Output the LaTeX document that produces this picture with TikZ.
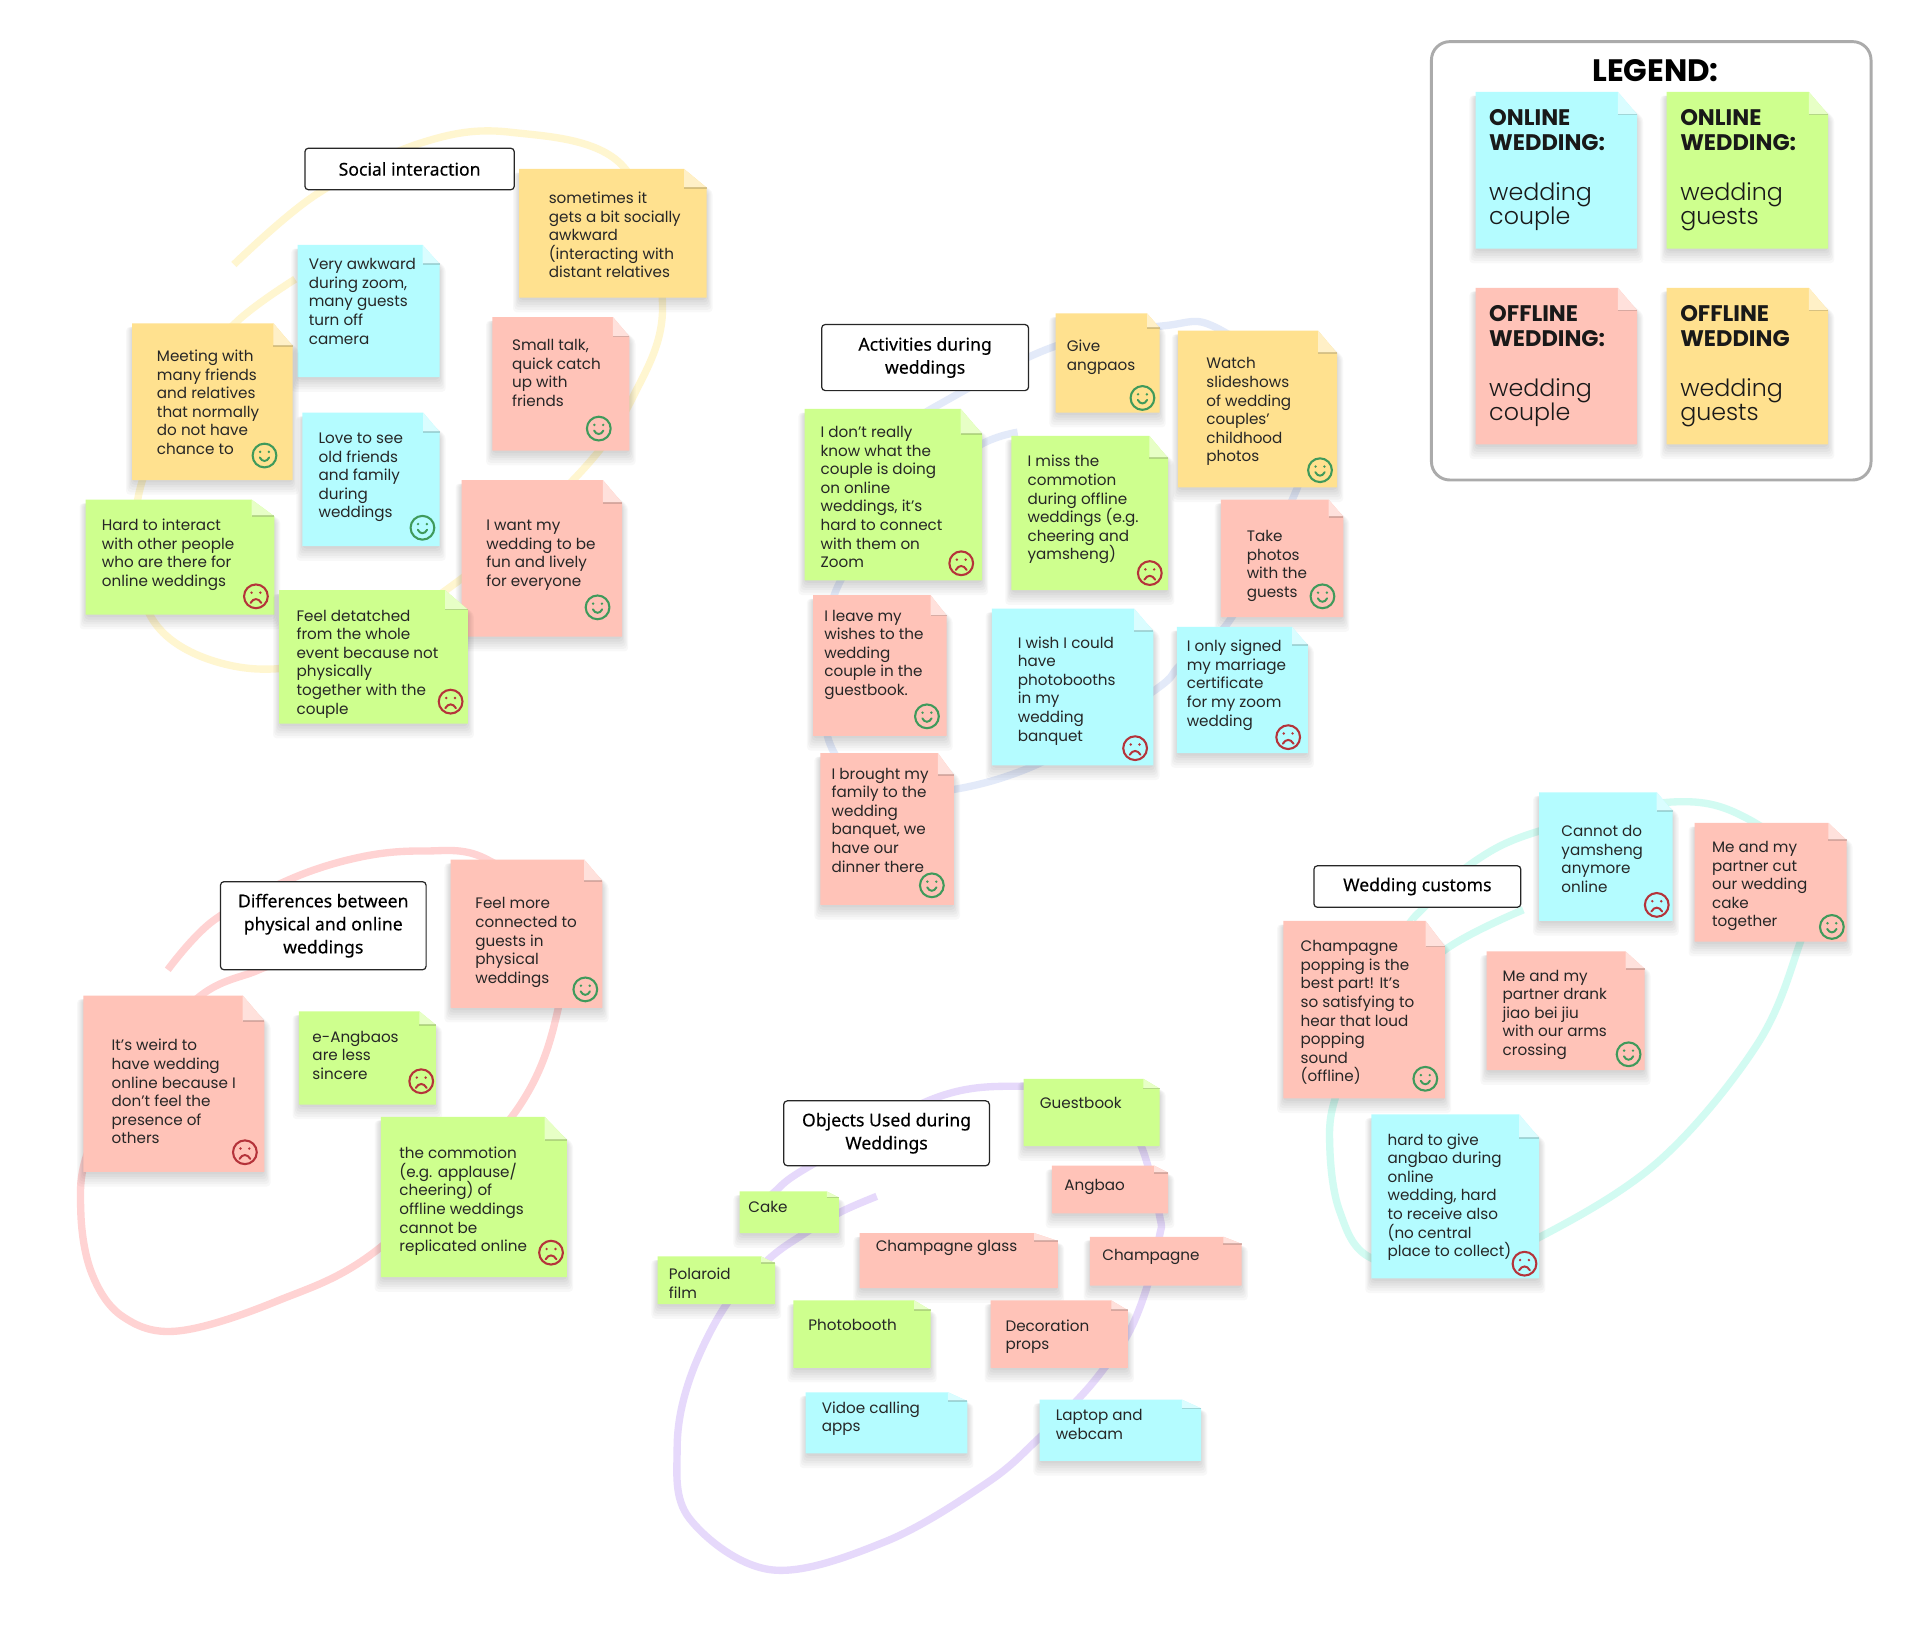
\documentclass[tikz,border=0pt]{standalone}
\usepackage{fontspec}
\setmainfont{Poppins}
\newfontfamily\titlefont[FakeBold=0.3]{Noto Sans}
\newfontfamily\legendfont{Poppins Light}
\definecolor{noteyellow}{HTML}{FFE18F}
\definecolor{noteblue}{HTML}{B4FCFF}
\definecolor{notegreen}{HTML}{CEFF8E}
\definecolor{notepink}{HTML}{FFC3B8}
\definecolor{ringyellow}{HTML}{FFF6D0}
\definecolor{ringblue}{HTML}{E3EAF9}
\definecolor{ringpink}{HTML}{FFD3D3}
\definecolor{ringaqua}{HTML}{D2FBF2}
\definecolor{ringlilac}{HTML}{E6D9FB}
\definecolor{facegreen}{HTML}{3F9A5B}
\definecolor{facered}{HTML}{B5333A}
\tikzset{
    ring/.style={line width=6pt,smooth,tension=0.6},
    notetext/.style={anchor=north west,inner sep=0pt,align=left,text=black!85,font=\fontsize{12.4}{15.2}\selectfont},
    legendtext/.style={anchor=north west,inner sep=0pt,align=left,text=black!90,font=\legendfont\fontsize{19.4}{20.2}\selectfont},
    titlebox/.style={draw=black!85,fill=white,line width=1pt,rounded corners=3pt,align=center,inner sep=0pt,font=\titlefont\fontsize{14.4}{18.8}\selectfont},
}
\newcommand{\legendhead}[1]{{\normalfont\fontsize{18.4}{20.2}\selectfont\bfseries #1}}
\newcommand{\stickynote}[7]{%
    \pgfmathsetmacro{\fw}{0.12*(#5-#3)}
    \pgfmathsetmacro{\fh}{0.145*(#6-#4)}
    \foreach \s in {1,...,6}
        \fill[black,opacity=0.028,rounded corners=3pt] (#3-6+\s,#4+3) -- (#5-\fw,#4+3) -- (#5+6-\s,#4+\fh+3) -- (#5+6-\s,#6+14-2*\s) -- (#3-6+\s,#6+14-2*\s) -- cycle;
    \fill[#2] (#3,#4) -- (#5-\fw,#4) -- (#5,#4+\fh) -- (#5,#6) -- (#3,#6) -- cycle;
    \fill[#2!50!white] (#5-\fw,#4) -- (#5,#4+\fh) -- (#5-\fw,#4+\fh) -- cycle;
    \draw[#2!75!black,line width=1.5pt,opacity=0.6] (#5-\fw,#4+\fh) -- (#5,#4+\fh);
    \coordinate (#1) at (#3,#4);
    #7
}
\newcommand{\notelabel}[4]{\node[notetext] (#1) at (#2,#3-8) {\rule{0pt}{12pt}#4};}
\newcommand{\smileface}[2]{%
    \draw[facegreen,line width=1.7pt] (#1,#2) circle (9.7);
    \fill[facegreen] (#1-3.6,#2-3) circle (1.1) (#1+3.6,#2-3) circle (1.1);
    \draw[facegreen,line width=1.6pt,line cap=round] (#1-3.8,#2+1.6) .. controls (#1-2,#2+5.4) and (#1+2,#2+5.4) .. (#1+3.8,#2+1.6);
}
\newcommand{\frownface}[2]{%
    \draw[facered,line width=1.7pt] (#1,#2) circle (9.7);
    \fill[facered] (#1-3.6,#2-3) circle (1.1) (#1+3.6,#2-3) circle (1.1);
    \draw[facered,line width=1.6pt,line cap=round] (#1-4.4,#2+5.4) .. controls (#1-2,#2+1.2) and (#1+2,#2+1.2) .. (#1+4.4,#2+5.4);
}
\begin{document}
\begin{tikzpicture}[x=1pt,y=-1pt]
            \useasboundingbox (0,0) rectangle (1568,1338.5);
            \fill[white] (0,0) rectangle (1568,1338.5);

            \draw[ring,ringyellow] plot coordinates {(191,216) (258,159) (343,117) (417,108) (509,136) (541,247) (517,324) (470,390) (375,474) (275,535) (191,544) (124,505) (112,411) (150,320) (191,265) (241,228)};
            \draw[ring,ringblue] plot coordinates {(831,353) (801,363) (745,400) (686,475) (673,543) (678,608) (713,642) (777,645) (856,620) (944,563) (964,543) (1006,504) (1060,397) (1075,332) (996,269) (951,266) (861,283) (764,332) (729,356)};
            \draw[ring,ringpink] plot coordinates {(137,792) (174,752) (237,718) (294,700) (345,695) (396,701) (455,750) (456,823) (418,912) (309,1020) (225,1063) (145,1087) (100,1075) (75,1040) (66,990) (72,940) (110,870) (164,813) (209,793) (237,782)};
            \draw[ring,ringaqua] plot coordinates {(1244,743) (1181,775) (1120,830) (1091,895) (1086,937) (1094,989) (1119,1027) (1186,1037) (1258,1010) (1355,948) (1435,853) (1470,770) (1483,718) (1428,669) (1365,655) (1256,679) (1202,705) (1159,745) (1154,751)};
            \draw[ring,ringlilac] plot coordinates {(716,977) (686,990) (656,1008) (627,1029) (592,1067) (563,1127) (553,1183) (563,1240) (630,1282) (723,1259) (806,1211) (848,1175) (882,1141) (902,1117) (922,1088) (937,1050) (947,1009) (947,993) (932,936) (906,895) (836,887) (763,897) (660,953) (633,973) (623,984)};

            \stickynote{nsometimes}{noteyellow}{424}{138}{577}{243}{\notelabel{sometimes}{448}{162}{sometimes it\\gets a bit socially\\awkward\\(interacting with\\distant relatives}}
            \stickynote{nawkward}{noteblue}{243}{200}{359}{308}{\notelabel{awkward}{252}{216}{Very awkward\\during zoom,\\many guests\\turn off\\camera}}
            \stickynote{nmeeting}{noteyellow}{108}{264}{239}{392}{\notelabel{meeting}{128}{291}{Meeting with\\many friends\\and relatives\\that normally\\do not have\\chance to}\smileface{216}{372}}
            \stickynote{nsmalltalk}{notepink}{402}{259}{514}{368}{\notelabel{smalltalk}{418}{282}{Small talk,\\quick catch\\up with\\friends}\smileface{489}{350}}
            \stickynote{nlove}{noteblue}{247}{337}{359}{446}{\notelabel{love}{260}{358}{Love to see\\old friends\\and family\\during\\weddings}\smileface{345}{431}}
            \stickynote{nhard}{notegreen}{70}{408}{224}{502}{\notelabel{hardinteract}{83}{429}{Hard to interact\\with other people\\who are there for\\online weddings}\frownface{209}{487}}
            \stickynote{nfun}{notepink}{377}{392}{508}{520}{\notelabel{fun}{397}{429}{I want my\\wedding to be\\fun and lively\\for everyone}\smileface{488}{496}}
            \stickynote{ndetached}{notegreen}{228}{482}{382}{591}{\notelabel{detached}{242}{503}{Feel detatched\\from the whole\\event because not\\physically\\together with the\\couple}\frownface{368}{573}}

            \stickynote{ngive}{noteyellow}{862}{256}{947}{337}{\notelabel{give}{871}{283}{Give\\angpaos}\smileface{933}{325}}
            \stickynote{nwatch}{noteyellow}{962}{270}{1092}{398}{\notelabel{watch}{985}{297}{Watch\\slideshows\\of wedding\\couples’\\childhood\\photos}\smileface{1078}{384}}
            \stickynote{nknow}{notegreen}{657}{334}{802}{474}{\notelabel{know}{670}{353}{I don’t really\\know what the\\couple is doing\\on online\\weddings, it’s\\hard to connect\\with them on\\Zoom}\frownface{785}{460}}
            \stickynote{nmiss}{notegreen}{826}{356}{954}{482}{\notelabel{miss}{839}{377}{I miss the\\commotion\\during offline\\weddings (e.g.\\cheering and\\yamsheng)}\frownface{939}{468}}
            \stickynote{ntake}{notepink}{997}{408}{1097}{504}{\notelabel{take}{1018}{438}{Take\\photos\\with the\\guests}\smileface{1080}{487}}
            \stickynote{nleave}{notepink}{664}{486}{773}{601}{\notelabel{leave}{673}{503}{I leave my\\wishes to the\\wedding\\couple in the\\guestbook.}\smileface{757}{585}}
            \stickynote{nwish}{noteblue}{810}{497}{942}{625}{\notelabel{wish}{831}{525}{I wish I could\\have\\photobooths\\in my\\wedding\\banquet}\frownface{927}{611}}
            \stickynote{nsigned}{noteblue}{961}{512}{1068}{615}{\notelabel{signed}{969}{528}{I only signed\\my marriage\\certificate\\for my zoom\\wedding}\frownface{1052}{602}}
            \stickynote{nbrought}{notepink}{670}{615}{779}{739}{\notelabel{brought}{679}{632}{I brought my\\family to the\\wedding\\banquet, we\\have our\\dinner there}\smileface{761}{723}}

            \stickynote{ncannot}{noteblue}{1257}{647}{1366}{752}{\notelabel{cannot}{1275}{679}{Cannot do\\yamsheng\\anymore\\online}\frownface{1353}{739}}
            \stickynote{ncake}{notepink}{1384}{672}{1508}{769}{\notelabel{cutcake}{1398}{692}{Me and my\\partner cut\\our wedding\\cake\\together}\smileface{1496}{757}}
            \stickynote{npopping}{notepink}{1048}{752}{1180}{897}{\notelabel{popping}{1062}{773}{Champagne\\popping is the\\best part! It’s\\so satisfying to\\hear that loud\\popping\\sound\\(offline)}\smileface{1164}{881}}
            \stickynote{ndrank}{notepink}{1214}{777}{1343}{874}{\notelabel{drank}{1227}{797}{Me and my\\partner drank\\jiao bei jiu\\with our arms\\crossing}\smileface{1330}{861}}
            \stickynote{nangbao}{noteblue}{1120}{910}{1257}{1044}{\notelabel{hardangbao}{1133}{931}{hard to give\\angbao during\\online\\wedding, hard\\to receive also\\(no central\\place to collect)}\frownface{1245}{1032}}

            \stickynote{nconnected}{notepink}{368}{702}{492}{823}{\notelabel{connected}{388}{738}{Feel more\\connected to\\guests in\\physical\\weddings}\smileface{478}{808}}
            \stickynote{nweird}{notepink}{68}{813}{216}{957}{\notelabel{weird}{91}{854}{It’s weird to\\have wedding\\online because I\\don’t feel the\\presence of\\others}\frownface{200}{941}}
            \stickynote{nsincere}{notegreen}{244}{826}{356}{902}{\notelabel{sincere}{255}{847}{e-Angbaos\\are less\\sincere}\frownface{344}{883}}
            \stickynote{ncommotion}{notegreen}{311}{912}{463}{1043}{\notelabel{commotion}{326}{942}{the commotion\\(e.g. applause/\\cheering) of\\offline weddings\\cannot be\\replicated online}\frownface{450}{1023}}

            \stickynote{nguestbook}{notegreen}{836}{881}{947}{936}{\notelabel{guestbook}{849}{901}{Guestbook}}
            \stickynote{nangbaoobj}{notepink}{859}{952}{954}{991}{\notelabel{angbaoobj}{869}{968}{Angbao}}
            \stickynote{ncakeobj}{notegreen}{604}{973}{685}{1007}{\notelabel{cakeobj}{611}{986}{Cake}}
            \stickynote{nglass}{notepink}{702}{1007}{864}{1052}{\notelabel{glass}{715}{1018}{Champagne glass}}
            \stickynote{nchampagne}{notepink}{890}{1010}{1014}{1050}{\notelabel{champagne}{900}{1025}{Champagne}}
            \stickynote{npolaroid}{notegreen}{537}{1026}{633}{1065}{\notelabel{polaroid}{546}{1041}{Polaroid\\film}}
            \stickynote{nbooth}{notegreen}{648}{1062}{760}{1117}{\notelabel{booth}{660}{1082}{Photobooth}}
            \stickynote{nprops}{notepink}{809}{1062}{921}{1117}{\notelabel{props}{821}{1083}{Decoration\\props}}
            \stickynote{nvideo}{noteblue}{658}{1137}{790}{1187}{\notelabel{video}{671}{1150}{Vidoe calling\\apps}}
            \stickynote{nlaptop}{noteblue}{849}{1143}{981}{1193}{\notelabel{laptop}{862}{1156}{Laptop and\\webcam}}

            \node[titlebox,minimum width=171pt,minimum height=34pt] (social) at (334.5,138) {Social interaction};
            \node[titlebox,minimum width=169pt,minimum height=54pt] (activities) at (755.5,292) {Activities during\\weddings};
            \node[titlebox,minimum width=169pt,minimum height=34pt] (customs) at (1157.5,724) {Wedding customs};
            \node[titlebox,minimum width=168pt,minimum height=72pt] (differences) at (264,756) {Differences between\\physical and online\\weddings};
            \node[titlebox,minimum width=168pt,minimum height=53pt] (objects) at (724,925.5) {Objects Used during\\Weddings};

            \draw[black!33,line width=2.4pt,rounded corners=15pt] (1169,34) rectangle (1528,392);
            \node[font=\fontsize{25.3}{28}\selectfont\bfseries,inner sep=0pt] (legend) at (1352,58) {LEGEND:};
            \stickynote{lonlinecouple}{noteblue}{1205}{75}{1337}{203}{\node[legendtext] (onlinecouple) at (1216,89.5) {\legendhead{ONLINE}\\\legendhead{WEDDING:}\\[20.2pt]wedding\\couple};}
            \stickynote{lonlineguests}{notegreen}{1361}{75}{1493}{203}{\node[legendtext] (onlineguests) at (1372,89.5) {\legendhead{ONLINE}\\\legendhead{WEDDING:}\\[20.2pt]wedding\\guests};}
            \stickynote{lofflinecouple}{notepink}{1205}{235}{1337}{363}{\node[legendtext] (offlinecouple) at (1216,249.5) {\legendhead{OFFLINE}\\\legendhead{WEDDING:}\\[20.2pt]wedding\\couple};}
            \stickynote{lofflineguests}{noteyellow}{1361}{235}{1493}{363}{\node[legendtext] (offlineguests) at (1372,249.5) {\legendhead{OFFLINE}\\\legendhead{WEDDING}\\[20.2pt]wedding\\guests};}
\end{tikzpicture}
\end{document}
